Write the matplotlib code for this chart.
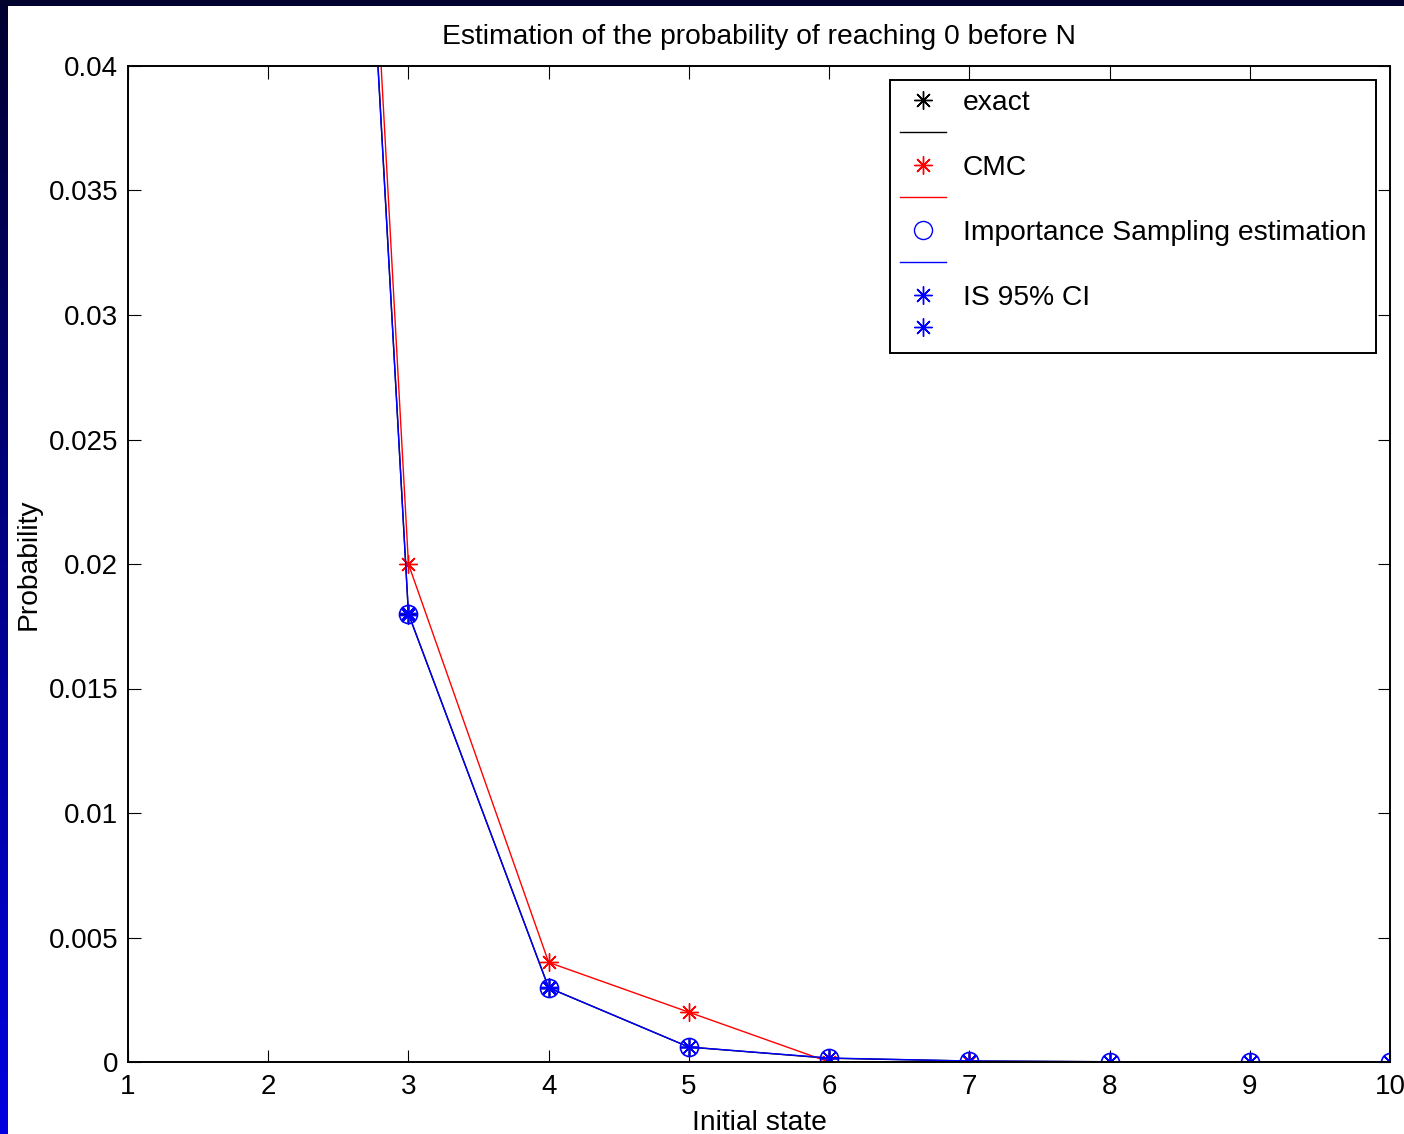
import numpy as np
import matplotlib.pyplot as plt
from matplotlib.lines import Line2D

plt.rcParams['font.family'] = ['Liberation Sans', 'DejaVu Sans']

# Data
states = [1, 2, 3, 4, 5, 6, 7, 8, 9, 10]
exact = [0.60, 0.1195, 0.0180, 0.00298, 0.00060, 0.00015, 0.00004, 0.00001, 0.000002, 0.0]
cmc = [0.61, 0.1226, 0.0200, 0.0040, 0.0020, 0.0, 0.0, 0.0, 0.0, 0.0]
is_est = [0.60, 0.1190, 0.0180, 0.00298, 0.00060, 0.00016, 0.00004, 0.00001, 0.000002, 0.0]
is_lo = [0.59, 0.1185, 0.01795, 0.00296, 0.00059, 0.00015, 0.00004, 0.00001, 0.000002, 0.0]
is_hi = [0.61, 0.1195, 0.01805, 0.00300, 0.00061, 0.00017, 0.00005, 0.00001, 0.000002, 0.0]

W, H = 1404, 1134
fig = plt.figure(figsize=(W / 100, H / 100), dpi=100)

# slide background strips (dark blue frame)
grad = np.linspace(0, 1, 256).reshape(-1, 1)
top_col = np.array([0.0, 0.0, 0.19])
bot_col = np.array([0.0, 0.0, 0.88])
img = top_col + grad[..., None] * (bot_col - top_col)
ax_l = fig.add_axes([0, 0, 8 / W, 1])
ax_l.imshow(img, aspect='auto', extent=[0, 1, 1, 0])
ax_l.axis('off')
ax_t = fig.add_axes([0, 1 - 6 / H, 1, 6 / H])
ax_t.set_facecolor('#02022e')
ax_t.set_xticks([])
ax_t.set_yticks([])
for s in ax_t.spines.values():
    s.set_visible(False)

ax = fig.add_axes([128 / W, 1 - 1062 / H, (1390 - 128) / W, (1062 - 66) / H])

ast = (8, 2, 0)
ms = 13
lw = 1.0
fs = 20.3
ax.plot(states, exact, color='k', marker=ast, ms=ms, lw=0, mew=1)
ax.plot(states, exact, color='k', lw=lw)
ax.plot(states, cmc, color='r', marker=ast, ms=ms, lw=0, mew=1)
ax.plot(states, cmc, color='r', lw=lw)
ax.plot(states, is_est, color='b', marker='o', ms=ms, lw=0, mew=1.2, mfc='none')
ax.plot(states, is_est, color='b', lw=lw)
ax.plot(states, is_lo, color='b', marker=ast, ms=ms, lw=0, mew=1)
ax.plot(states, is_hi, color='b', marker=ast, ms=ms, lw=0, mew=1)

ax.set_xlim(1, 10)
ax.set_ylim(0, 0.04)
ax.set_xticks(states)
ax.set_yticks([0, 0.005, 0.01, 0.015, 0.02, 0.025, 0.03, 0.035, 0.04])
ax.set_yticklabels(['0', '0.005', '0.01', '0.015', '0.02', '0.025', '0.03', '0.035', '0.04'])
ax.tick_params(direction='in', length=9, width=0.8, labelsize=20, pad=9,
               top=True, right=True)
ax.tick_params(axis='y', pad=7)
for s in ax.spines.values():
    s.set_linewidth(1.4)

ax.set_title('Estimation of the probability of reaching 0 before N', fontsize=fs, pad=16)
ax.set_xlabel('Initial state', fontsize=fs, labelpad=7)
ax.set_ylabel('Probability', fontsize=fs, labelpad=5)

handles = [
    Line2D([], [], color='k', marker=ast, ms=ms, lw=0),
    Line2D([], [], color='k', lw=lw),
    Line2D([], [], color='r', marker=ast, ms=ms, lw=0),
    Line2D([], [], color='r', lw=lw),
    Line2D([], [], color='b', marker='o', ms=ms, lw=0, mfc='none'),
    Line2D([], [], color='b', lw=lw),
    Line2D([], [], color='b', marker=ast, ms=ms, lw=0),
    Line2D([], [], color='b', marker=ast, ms=ms, lw=0),
]
labels = ['exact', ' ', 'CMC', ' ', 'Importance Sampling estimation', ' ', 'IS 95% CI', ' ']
leg = ax.legend(handles, labels, loc='upper right', fontsize=fs,
                bbox_to_anchor=(1376 / W, 1 - 80 / H), bbox_transform=fig.transFigure,
                borderaxespad=0, fancybox=False, framealpha=1, edgecolor='k',
                handlelength=1.63, handletextpad=0.6, labelspacing=0.23,
                borderpad=0.35, numpoints=1)
leg.get_frame().set_linewidth(1.4)

fig.savefig('out.png', dpi=100)
